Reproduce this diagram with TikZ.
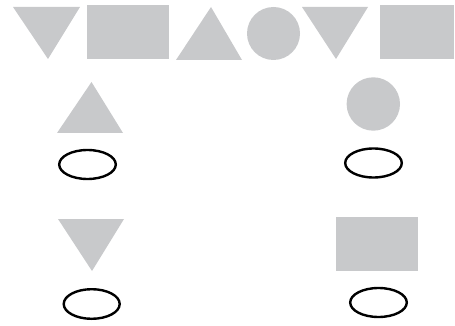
\documentclass[tikz,border=0pt]{standalone}
\usepackage{tikz}
\usetikzlibrary{positioning}
\definecolor{shapegray}{RGB}{200,201,203}

\begin{document}
\begin{tikzpicture}[x=1pt,y=-1pt,
    piece/.style={fill=shapegray},
    blank/.style={draw=black,line width=2.4pt}]
  \useasboundingbox (0,0) rectangle (455,326);
  % row of shapes
  \begin{scope}
    \fill[piece] (13,7)--(80,7)--(48,59)--cycle;
    \fill[piece] (87,5) rectangle (169,59);
    \fill[piece] (176,60)--(242,60)--(211,7)--cycle;
    \fill[piece] (273.5,33.5) circle (26.5);
    \fill[piece] (302,7)--(368,7)--(336,59)--cycle;
    \fill[piece] (380,5) rectangle (454,59);
  \end{scope}
  % questions
  \begin{scope}
    \fill[piece] (57,133)--(123,133)--(91.5,82)--cycle;
    \fill[piece] (373.3,104) circle (26.7);
    \fill[piece] (58,219)--(124,219)--(92,271)--cycle;
    \fill[piece] (336,217) rectangle (418,271);
  \end{scope}
  % answer slots
  \draw[blank] (87.5,164.5) ellipse (28.3 and 14.5);
  \draw[blank] (373.5,163) ellipse (28.3 and 14.5);
  \draw[blank] (91.7,304) ellipse (28 and 14.8);
  \draw[blank] (378.5,302.5) ellipse (28.3 and 14.5);
\end{tikzpicture}
\end{document}
